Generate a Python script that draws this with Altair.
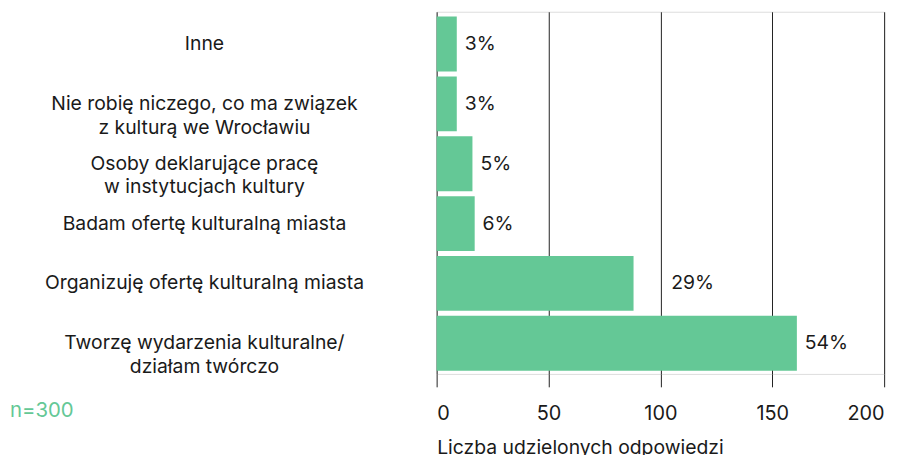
import altair as alt
import pandas as pd

categories = [
    "Inne",
    "Nie robię niczego, co ma związek\nz kulturą we Wrocławiu",
    "Osoby deklarujące pracę\nw instytucjach kultury",
    "Badam ofertę kulturalną miasta",
    "Organizuję ofertę kulturalną miasta",
    "Tworzę wydarzenia kulturalne/\ndziałam twórczo",
]
counts = [9, 9, 16, 17, 88, 161]
percent_labels = ["3%", "3%", "5%", "6%", "29%", "54%"]
x_ticks = [0, 50, 100, 150, 200]
sample_note = "n=300"
x_title = "Liczba udzielonych odpowiedzi"

df = pd.DataFrame({"cat": categories, "count": counts, "pct": percent_labels})

FONT = "Inter"
GREEN = "#64C896"
INK = "#1a1a1a"

y_enc = alt.Y(
    "cat:N",
    sort=categories,
    axis=None,
    scale=alt.Scale(paddingInner=0.083, paddingOuter=0.067, align=0.6),
)

base = alt.Chart(df)

bars = base.mark_bar(color=GREEN).encode(
    x=alt.X(
        "count:Q",
        scale=alt.Scale(domain=[0, 200], nice=False),
        axis=alt.Axis(
            values=x_ticks,
            grid=True,
            gridColor="#222222",
            gridOpacity=1,
            gridWidth=1,
            domain=False,
            ticks=True,
            tickSize=13,
            tickColor="#222222",
            tickWidth=1,
            labelFont=FONT,
            labelFontSize=20,
            labelColor=INK,
            labelPadding=17,
            title=x_title,
            titleFont=FONT,
            titleFontSize=19.5,
            titleFontWeight="normal",
            titleColor=INK,
            titleAnchor="start",
            titleAlign="left",
            titlePadding=15,
        ),
    ),
    y=y_enc,
)

pct = base.mark_text(
    align="left", baseline="middle", dx=8, font=FONT, fontSize=19.5, color=INK
).encode(x="count:Q", y=y_enc, text="pct:N").transform_filter(
    alt.datum.pct != "29%"
)

pct_far = base.mark_text(
    align="left", baseline="middle", dx=38, font=FONT, fontSize=19.5, color=INK
).encode(x="count:Q", y=y_enc, text="pct:N").transform_filter(
    alt.datum.pct == "29%"
)

labels = base.mark_text(
    align="center", baseline="middle", font=FONT, fontSize=19.5, color=INK,
    lineBreak="\n", lineHeight=24,
).encode(x=alt.value(-234), y=y_enc, text="cat:N")

note = alt.Chart(pd.DataFrame({"t": [sample_note]})).mark_text(
    align="left", baseline="middle", font=FONT, fontSize=20.5, color=GREEN
).encode(x=alt.value(-430), y=alt.value(402), text="t:N")

chart = (
    alt.layer(bars, pct, pct_far, labels, note)
    .properties(
        width=451,
        height=365,
        autosize=alt.AutoSizeParams(type="none"),
        padding={"left": 432, "top": 2, "right": 18, "bottom": 90},
    )
    .configure_view(stroke=None)
    .configure(background="white")
)

chart.save("out.html", embed_options={"renderer": "svg", "actions": False})
